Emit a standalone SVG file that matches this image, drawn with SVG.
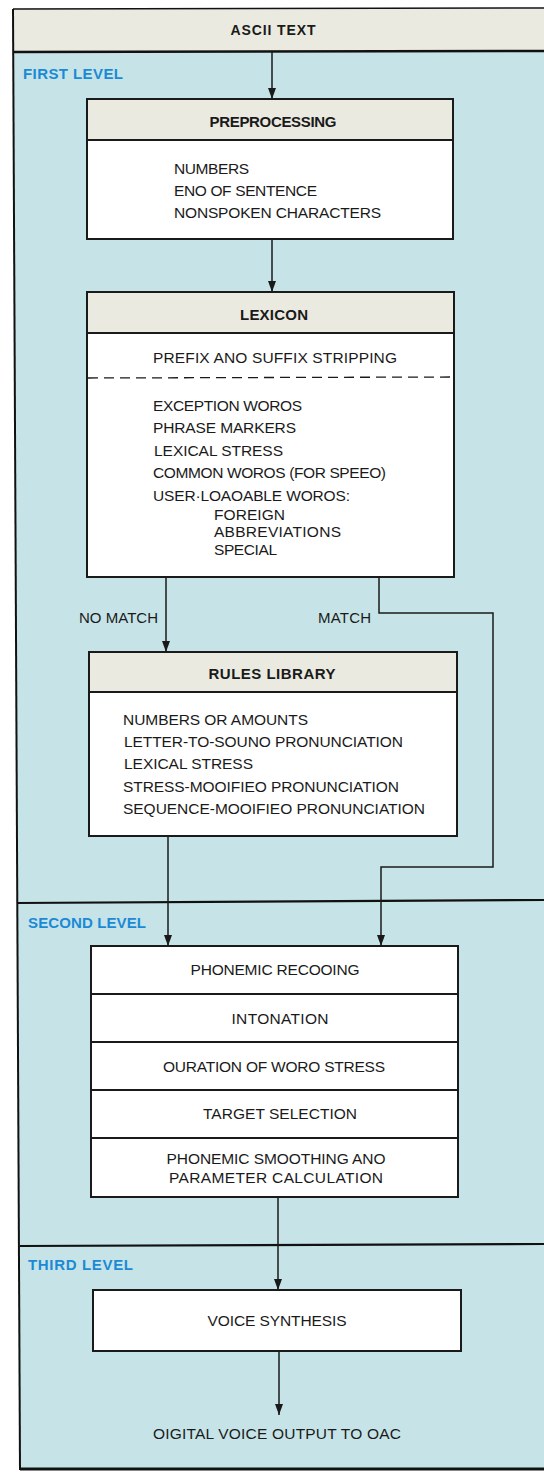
<svg xmlns="http://www.w3.org/2000/svg" width="544" height="1472" viewBox="0 0 544 1472">
<style>
  text { font-family: "Liberation Sans", Arial, sans-serif; fill: #1a1a1a; }
  .t { font-size: 15.5px; }
  .h { font-size: 15px; font-weight: bold; text-anchor: middle; }
  .c { text-anchor: middle; }
  .lvl { font-size: 15px; font-weight: bold; fill: #1b8ad6; }
  .box { fill: #ffffff; stroke: #1a1a1a; stroke-width: 2; }
  .hdr { fill: #ebeae0; stroke: #1a1a1a; stroke-width: 2; }
  .div { stroke: #1a1a1a; stroke-width: 2; fill: none; }
  .con { stroke: #1a1a1a; stroke-width: 1.5; fill: none; }
  .frame { stroke: #111; fill: none; }
</style>
<defs>
  <marker id="ah" markerUnits="userSpaceOnUse" markerWidth="11" markerHeight="8" refX="11" refY="4" orient="auto" viewBox="0 0 11 8">
    <path d="M0,0 L11,4 L0,8 Z" fill="#1a1a1a"/>
  </marker>
</defs>

<rect x="0" y="0" width="544" height="1472" fill="#ffffff"/>

<g id="frame">
  <path d="M13,9 L544,9 L544,52 L13.3,52 Z" fill="#ebeae0"/>
  <path d="M13.3,52 L544,52 L544,1470 L20,1470 Z" fill="#c6e4e7"/>
  <line class="frame" x1="13" y1="9" x2="544" y2="8" stroke-width="1.5"/>
  <line class="frame" x1="13" y1="52" x2="544" y2="51" stroke-width="2.5"/>
  <line class="frame" x1="17" y1="903" x2="544" y2="900" stroke-width="2.2"/>
  <line class="frame" x1="20" y1="1246" x2="544" y2="1244" stroke-width="2.2"/>
  <line class="frame" x1="20" y1="1469" x2="544" y2="1469" stroke-width="3"/>
  <line class="frame" x1="13" y1="9" x2="20" y2="1470" stroke-width="2"/>
</g>

<g id="ascii">
  <text class="h" x="273" y="35" textLength="85" lengthAdjust="spacing" style="font-size:14px">ASCII TEXT</text>
</g>
<g id="first-level">
  <text class="lvl" x="23" y="79" textLength="100" lengthAdjust="spacing">FIRST LEVEL</text>
</g>
<g id="second-level">
  <text class="lvl" x="28" y="928" textLength="118" lengthAdjust="spacing">SECOND LEVEL</text>
</g>
<g id="third-level">
  <text class="lvl" x="28" y="1270" textLength="105" lengthAdjust="spacing">THIRD LEVEL</text>
</g>

<g id="connectors">
  <line class="con" x1="272" y1="52" x2="272" y2="99" marker-end="url(#ah)"/>
  <line class="con" x1="272" y1="239" x2="272" y2="292" marker-end="url(#ah)"/>
  <line class="con" x1="166" y1="577" x2="166" y2="652" marker-end="url(#ah)"/>
  <polyline class="con" points="379,577 379,613 493,613 493,867 381,867 381,946" marker-end="url(#ah)"/>
  <line class="con" x1="168" y1="836" x2="168" y2="946" marker-end="url(#ah)"/>
  <line class="con" x1="278" y1="1197" x2="278" y2="1290" marker-end="url(#ah)"/>
  <line class="con" x1="279" y1="1351" x2="279" y2="1415" marker-end="url(#ah)"/>
  <text class="t" x="79" y="623" textLength="79" lengthAdjust="spacing" style="font-size:15px">NO MATCH</text>
  <text class="t" x="318" y="623" textLength="53" lengthAdjust="spacing" style="font-size:15px">MATCH</text>
</g>

<g id="preprocessing">
  <rect class="box" x="87" y="99" width="366" height="140"/>
  <rect class="hdr" x="87" y="99" width="366" height="41"/>
  <text class="h" x="273" y="127" textLength="127" lengthAdjust="spacing">PREPROCESSING</text>
  <text class="t" x="174" y="174" textLength="75" lengthAdjust="spacing">NUMBERS</text>
  <text class="t" x="174" y="196" textLength="143" lengthAdjust="spacing">ENO OF SENTENCE</text>
  <text class="t" x="174" y="218" textLength="207" lengthAdjust="spacing">NONSPOKEN CHARACTERS</text>
</g>

<g id="lexicon">
  <rect class="box" x="87" y="292" width="367" height="285"/>
  <rect class="hdr" x="87" y="292" width="367" height="41"/>
  <text class="h" x="274" y="320" textLength="68" lengthAdjust="spacing">LEXICON</text>
  <text class="t" x="153" y="363" textLength="244" lengthAdjust="spacing">PREFIX ANO SUFFIX STRIPPING</text>
  <line x1="88" y1="378" x2="453" y2="377" stroke="#1a1a1a" stroke-width="1.3" stroke-dasharray="10,6"/>
  <text class="t" x="153" y="411" textLength="149" lengthAdjust="spacing">EXCEPTION WOROS</text>
  <text class="t" x="153" y="433" textLength="143" lengthAdjust="spacing">PHRASE MARKERS</text>
  <text class="t" x="154" y="456" textLength="129" lengthAdjust="spacing">LEXICAL STRESS</text>
  <text class="t" x="153" y="478" textLength="233" lengthAdjust="spacing">COMMON WOROS (FOR SPEEO)</text>
  <text class="t" x="153" y="501" textLength="197" lengthAdjust="spacing">USER·LOAOABLE WOROS:</text>
  <text class="t" x="214" y="520" textLength="71" lengthAdjust="spacing">FOREIGN</text>
  <text class="t" x="214" y="537" textLength="127" lengthAdjust="spacing">ABBREVIATIONS</text>
  <text class="t" x="214" y="555" textLength="63" lengthAdjust="spacing">SPECIAL</text>
</g>

<g id="rules-library">
  <rect class="box" x="89" y="652" width="368" height="184"/>
  <rect class="hdr" x="89" y="652" width="368" height="40"/>
  <text class="h" x="272" y="679" textLength="127" lengthAdjust="spacing">RULES LIBRARY</text>
  <text class="t" x="123" y="725" textLength="185" lengthAdjust="spacing">NUMBERS OR AMOUNTS</text>
  <text class="t" x="124" y="747" textLength="279" lengthAdjust="spacing">LETTER-TO-SOUNO PRONUNCIATION</text>
  <text class="t" x="124" y="769" textLength="129" lengthAdjust="spacing">LEXICAL STRESS</text>
  <text class="t" x="123" y="792" textLength="276" lengthAdjust="spacing">STRESS-MOOIFIEO PRONUNCIATION</text>
  <text class="t" x="123" y="814" textLength="302" lengthAdjust="spacing">SEQUENCE-MOOIFIEO PRONUNCIATION</text>
</g>

<g id="second-level-stack">
  <rect class="box" x="91" y="946" width="367" height="251"/>
  <line class="div" x1="91" y1="994" x2="458" y2="994"/>
  <line class="div" x1="91" y1="1042" x2="458" y2="1042"/>
  <line class="div" x1="91" y1="1090" x2="458" y2="1090"/>
  <line class="div" x1="91" y1="1138" x2="458" y2="1138"/>
  <text class="t c" x="275" y="975" textLength="169" lengthAdjust="spacing">PHONEMIC RECOOING</text>
  <text class="t c" x="280" y="1024" textLength="97" lengthAdjust="spacing">INTONATION</text>
  <text class="t c" x="274" y="1072" textLength="222" lengthAdjust="spacing">OURATION OF WORO STRESS</text>
  <text class="t c" x="280" y="1119" textLength="154" lengthAdjust="spacing">TARGET SELECTION</text>
  <text class="t c" x="276" y="1164" textLength="219" lengthAdjust="spacing">PHONEMIC SMOOTHING ANO</text>
  <text class="t c" x="276" y="1183" textLength="214" lengthAdjust="spacing">PARAMETER CALCULATION</text>
</g>

<g id="voice-synthesis">
  <rect class="box" x="93" y="1290" width="368" height="61"/>
  <text class="t c" x="277" y="1326" textLength="139" lengthAdjust="spacing">VOICE SYNTHESIS</text>
</g>

<g id="output">
  <text class="t c" x="277" y="1439" textLength="248" lengthAdjust="spacing">OIGITAL VOICE OUTPUT TO OAC</text>
</g>
</svg>
